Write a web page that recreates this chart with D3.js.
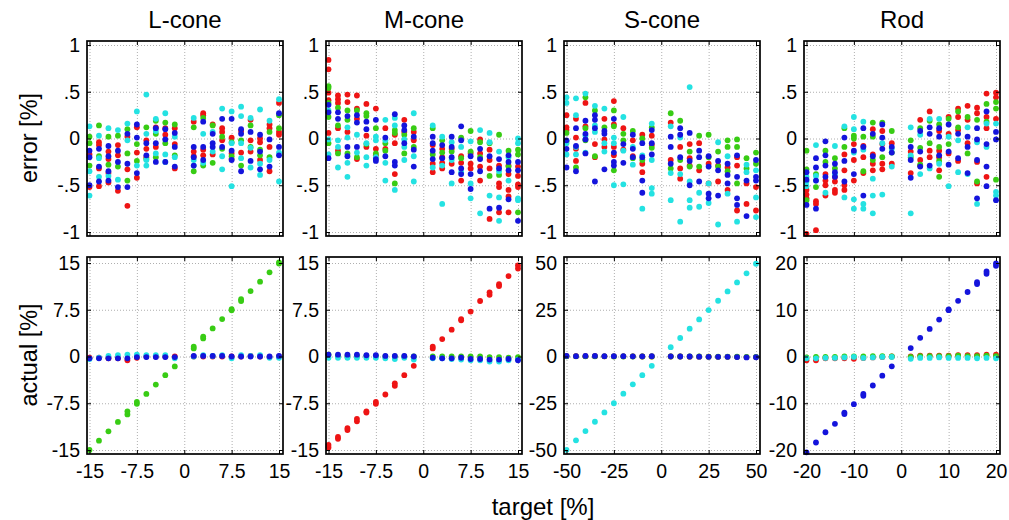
<!DOCTYPE html>
<html>
<head>
<meta charset="utf-8">
<script src="https://cdn.jsdelivr.net/npm/d3@7/dist/d3.min.js"></script>
<style>
  body { margin: 0; background: #fff; }
  text { font-family: "Liberation Sans", Arial, sans-serif; fill: #000; }
  .grid line { stroke: #9a9a9a; stroke-width: 0.8; stroke-dasharray: 1,2; }
  .grid path { display: none; }
  .ax path { display: none; }
  .ax line { stroke: #000; stroke-width: 1; }
</style>
</head>
<body>
<script>
// colours of the four series
var colRed = "#ee1414", colGreen = "#38cc14", colBlue = "#1414dc", colCyan = "#24e2e2";

// targets (x values) per panel
var targetsL = [-15,-13.5,-12,-10.5,-9,-7.5,-6,-4.5,-3,-1.5,1.5,3,4.5,6,7.5,9,10.5,12,13.5,15];
var targetsM = targetsL;
var targetsS = [-50,-45,-40,-35,-30,-25,-20,-15,-10,-5,5,10,15,20,25,30,35,40,45,50];
var targetsR = [-20,-18,-16,-14,-12,-10,-8,-6,-4,-2,2,4,6,8,10,12,14,16,18,20];

// tick labels
var ticksLM = [-15,-7.5,0,7.5,15];
var ticksS = [-50,-25,0,25,50];
var ticksR = [-20,-10,0,10,20];
var ticksErr = [-1,-0.5,0,0.5,1];

var titles = ["L-cone","M-cone","S-cone","Rod"];

// ---- error [%] (top row), one list per target ----
var errL_red = [[-0.17,-0.52],[-0.04,-0.07,-0.32,-0.51],[-0.14,-0.22,-0.37,-0.47],[-0.07,-0.18,-0.56],[0.02,-0.33,-0.72],[0.12,-0.15,-0.42],[-0.02,-0.11,-0.2],[0.12,-0.09],[0.11,0.04],[0.11,-0.06,-0.32],
  [0.18,-0.14,-0.19],[0.27,0.25,-0.12,-0.18],[0.15,-0.17],[0.11,0.07,-0.02],[0.01,-0.16,-0.22],[0.08,-0.15],[0.2,-0.02,-0.14],[0.0,-0.04,-0.23],[0.15,0.11,-0.09,-0.35],[0.38,0.07,0.04]];
var errL_green = [[0.02,-0.05,-0.29],[0.14,-0.19],[0.02,-0.28],[0.03,-0.3],[0.1,-0.16,-0.45],[-0.06,-0.24],[0.12,-0.22],[0.19,0.05,-0.2],[0.17,-0.05],[0.15,-0.18],
  [0.12,-0.35],[0.22,-0.29],[0.14,-0.26],[0.02,-0.11],[-0.19,-0.04],[-0.02,-0.29],[0.14,-0.09],[-0.12,-0.18],[0.07,-0.2],[0.11,0.25]];
var errL_blue = [[-0.13,-0.2,-0.5],[-0.11,-0.3,-0.46],[-0.08,-0.19,-0.35,-0.45],[-0.13,-0.25,-0.52],[0.05,-0.27,-0.52],[0.15,0.01,-0.37],[-0.05,-0.18],[0.11,-0.05,-0.25],[0.1,-0.01,-0.25],[0.06,-0.09,-0.3],
  [-0.09,-0.2,-0.29],[0.18,-0.09,-0.23],[0.05,-0.05,-0.09],[0.21,-0.09],[0.21,-0.13,-0.23],[0.1,0.05,-0.35],[0.07,-0.24],[0.04,-0.14,-0.33],[-0.01,-0.3],[0.27,-0.09,-0.18]];
var errL_cyan = [[0.13,-0.35,-0.61],[0.03,-0.21,-0.41],[0.11,-0.4],[0.09,-0.44],[0.16,-0.02],[0.29,-0.29],[0.47,0.05,-0.23,-0.29],[0.21,0.08,-0.16],[0.27,-0.17,-0.25],[0.02,-0.2],
  [0.22,-0.23,-0.29],[-0.26,0.05],[0.07,-0.14],[0.32,-0.19,-0.33],[0.29,-0.05,-0.51],[0.34,0.24,-0.05,-0.21],[0.22,-0.1,-0.31],[0.31,-0.27,-0.39],[0.19,-0.23],[0.42,-0.15,-0.46]];

var errM_red = [[0.84,0.74,0.49,0.41,0.06],[0.46,0.42,0.38,0.11,-0.13],[0.47,0.39,0.07],[0.46,0.32,0.21,-0.22],[0.37,0.03,-0.09],[0.32,-0.11,-0.18],[0.11,-0.11],[0.04,-0.05,-0.38],[0.2,0.07],[0.07,-0.02],
  [-0.07,-0.27,-0.36],[-0.11,-0.2,-0.26,-0.32],[-0.11,-0.27],[-0.19,-0.26,-0.45],[-0.16,-0.27,-0.32],[-0.01,-0.16,-0.3,-0.45],[-0.12,-0.23,-0.32,-0.86],[-0.29,-0.48,-0.52,-0.79],[-0.29,-0.38,-0.55,-0.62,-0.79],[-0.3,-0.4,-0.49,-0.52]];
var errM_green = [[0.56,0.54,0.38,0.23,-0.05],[0.33,0.14,-0.16],[0.3,0.2,-0.16],[0.3,-0.2],[0.27,0.24,-0.06],[0.11,-0.16],[-0.05,-0.13],[0.09,0.06,-0.48],[0.04,-0.16],[0.11,-0.09],
  [0.11,-0.17],[-0.02,-0.15],[-0.14],[0.01,-0.21],[0.08,-0.14],[-0.04,-0.2],[-0.05,-0.4],[0.04,-0.39],[-0.13,-0.3],[-0.12,-0.17,-0.79]];
var errM_blue = [[0.36,0.28,-0.21],[0.28,0.21],[0.24,-0.09,-0.19],[0.25,0.17,-0.09],[0.18,0.1],[0.2,-0.22,-0.24],[0.01,-0.19],[0.26,-0.25,-0.29],[0.14,0.09,-0.05],[0.02,-0.12,-0.3],
  [0.02,-0.05,-0.13,-0.22],[-0.07,-0.21],[0.02,-0.09,-0.2,-0.36],[0.13,-0.02,-0.32,-0.38],[-0.19,-0.38,-0.54],[-0.11,-0.22,-0.35],[-0.19,-0.75],[-0.22,-0.32,-0.74],[-0.18,-0.25,-0.34,-0.65],[-0.25,-0.34,-0.88]];
var errM_cyan = [[0.3,-0.01,-0.17],[-0.02,-0.09,-0.31],[0.12,0.01,-0.26,-0.41],[0.04,-0.15],[-0.05,-0.2,-0.29],[0.02,-0.02,-0.2],[0.2,-0.02,-0.26,-0.45],[0.22,0.14,-0.55],[-0.01,-0.09,-0.23],[0.27,-0.19,-0.46],
  [0.14,-0.31],[0.02,-0.29,-0.7],[-0.04,-0.23,-0.48],[-0.09,-0.36],[-0.03,-0.48,-0.64],[0.09,-0.8],[0.06,-0.04,-0.61],[-0.14,-0.35,-0.63,-0.88],[-0.2,-0.45],[0.0,-0.05,-0.64,-0.66]];

var errS_red = [[0.25,0.12,0.09],[0.21,0.01,-0.11,-0.24],[0.38,0.13],[-0.06,-0.2],[0.21,-0.01,-0.09],[0.4,0.15,-0.09,-0.18],[0.11,-0.12],[-0.02,-0.19],[0.04,-0.27,-0.36],[0.03,-0.07],
  [0.17,-0.23],[-0.09,-0.32,-0.43],[-0.06,-0.21,-0.29],[-0.05,-0.34],[-0.27,-0.48],[-0.29,-0.46],[-0.31,-0.55],[-0.2,-0.29,-0.77],[-0.48,-0.7],[-0.52,-0.77]];
var errS_green = [[0.06,-0.03],[-0.31],[0.44,0.11,-0.02],[0.3,-0.19],[0.12],[0.3,0.13,-0.34],[0.05,-0.02],[0.08,-0.21],[0.0,-0.23],[0.12,-0.1],
  [0.27,-0.32],[0.19,-0.23],[-0.14,-0.3],[0.03,-0.3],[0.04,-0.2],[-0.14,-0.3],[-0.02,-0.09,-0.35],[-0.01,-0.09,-0.48],[-0.21,-0.32],[-0.15,-0.27]];
var errS_blue = [[-0.02,-0.11,-0.31],[0.11,-0.08,-0.35],[0.19,0.05,-0.01,-0.16],[0.25,0.2,0.11,-0.46],[0.08,0.05,-0.33],[0.21,-0.15,-0.25,-0.29],[-0.06,-0.26],[0.04,-0.11,-0.2],[-0.05,-0.2,-0.45,-0.58],[0.09,-0.05,-0.17],
  [0.02,-0.09,-0.27],[0.11,0.04,-0.2],[0.06,-0.24,-0.5],[-0.13,-0.2,-0.46],[-0.19,-0.3,-0.59,-0.64],[-0.24,-0.34,-0.61],[-0.27,-0.39,-0.48],[-0.18,-0.41,-0.64,-0.71],[-0.45,-0.83],[-0.23,-0.41,-0.45]];
var errS_cyan = [[0.44,0.38,-0.05,-0.17],[0.43,0.25,-0.09,-0.17],[0.48,0.03,-0.15],[0.35,0.14,0.07],[0.32,-0.05,-0.14],[0.01,-0.05,-0.5],[0.23,-0.13,-0.49],[-0.09,-0.28],[-0.18,-0.75],[0.16,-0.23,-0.53,-0.59],
  [0.13,-0.37,-0.66],[0.01,-0.38,-0.89],[0.55,-0.46,-0.66,-0.74],[-0.58,-0.73],[-0.48,-0.69],[-0.04,-0.92],[-0.19,-0.59],[-0.89],[-0.28,-0.36],[-0.34,-0.63,-0.84]];

var errR_red = [[-0.55,-0.6,-0.64,-1.02],[-0.67,-0.7,-0.98],[-0.38,-0.45,-0.5,-0.61],[-0.41,-0.46,-0.55,-0.58],[-0.17,-0.34,-0.5,-0.55],[-0.06,-0.23,-0.45],[-0.08,-0.2,-0.37],[0.1,-0.17,-0.27,-0.34],[0.08,-0.06,-0.27,-0.33],[-0.05,-0.27],
  [-0.14,-0.37],[0.2,-0.23,-0.29],[0.29,-0.13,-0.2],[0.08,-0.13,-0.2,-0.34],[0.23,0.05,-0.16],[0.32,0.23,0.09,-0.24],[0.35,0.2,-0.05],[0.33,0.27,-0.25,-0.48],[0.48,0.23,0.11,-0.41],[0.49,0.44,0.21]];
var errR_green = [[-0.13,-0.33,-0.66],[-0.38,-0.52],[-0.13,-0.25],[-0.21,-0.32],[0.11,-0.09],[0.03,0.0],[0.02,-0.35],[0.17,0.02,-0.23],[0.17,-0.2],[0.08,-0.15],
  [-0.02,-0.2],[0.11,-0.1,-0.28],[0.19,-0.05],[0.15,-0.09,-0.24,-0.41],[0.21,-0.06],[0.29,0.12],[0.23,-0.16],[0.2,-0.46],[0.37,0.18],[0.39,0.32,-0.44]];
var errR_blue = [[-0.36,-0.44,-0.71],[-0.21,-0.31,-0.45,-0.75],[-0.03,-0.18,-0.29,-0.41],[-0.27,-0.36,-0.41],[0.01,-0.24,-0.46],[-0.13,-0.38],[0.11,-0.09,-0.61],[0.05,-0.19],[0.15,0.01,-0.11],[-0.09,-0.15],
  [-0.09,-0.23,-0.42],[0.08,-0.14,-0.3],[0.12,0.05,-0.29],[0.11,0.02,-0.18],[0.15,-0.14,-0.28],[0.05,-0.21],[0.02,-0.09,-0.37],[0.11,-0.01,-0.23,-0.64],[0.29,-0.06,-0.3,-0.51],[0.07,-0.01,-0.66]];
var errR_cyan = [[-0.41,-0.46,-0.51],[-0.07,-0.4,-0.45],[-0.58],[-0.08,-0.38],[0.13,-0.63],[0.23,0.1,-0.15,-0.65,-0.75],[0.18,-0.12,-0.7,-0.75],[-0.43,-0.61,-0.8],[-0.05,-0.6],[-0.11,-0.3],
  [0.12,-0.18,-0.8],[0.04,-0.38],[0.21,-0.32],[0.21,-0.27],[0.02,-0.51],[-0.02,-0.36],[0.12,-0.38],[-0.04,-0.7],[0.16,-0.09],[0.16,-0.57,-0.61]];

// ---- actual [%] (bottom row) ----
var actL_green = [[-15.0],[-13.5],[-12.0],[-10.5],[-9.3,-8.8],[-7.6,-7.3],[-6.0],[-4.5],[-3.0],[-1.6],[1.3,1.6],[2.9,3.2],[4.5],[6.0],[7.4,7.6],[8.9,9.2],[10.5],[12.0],[13.5],[14.9,15.1]];
var actL_red = [-0.2,-0.2,-0.3,-0.3,-0.6,-0.2,0,0,0,0,0,0,0,0,0,0,0.1,0,-0.1,0];
var actL_blue = [-0.3,-0.3,-0.3,-0.3,-0.3,-0.1,-0.1,-0.1,-0.1,-0.1,0.1,0.1,0.1,0.1,0,0,0,0,0,0.1];
var actL_cyan = [-0.4,-0.2,0.1,0.2,0.3,0.3,0.2,0.2,0.2,-0.3,0,0.2,0.1,0.2,-0.3,0.2,0.1,0.2,-0.2,-0.2];

var actM_red = [[-14.6,-14.2],[-13.2,-12.9],[-11.8,-11.5],[-10.4,-10.0],[-9.0,-8.8],[-7.6,-7.3],[-6.1],[-4.7,-4.3],[-3.0],[-1.5],[1.3,1.6],[2.8],[4.3],[5.8,6.0],[7.2],[8.9],[9.9,10.3],[11.3,11.6],[12.9],[14.1,14.6]];
var actM_green = [0.3,0.1,0.1,0.1,0.1,0.1,0,0,0,0,0,0,0,0,0,0,-0.1,-0.1,-0.2,-0.1];
var actM_blue = [0.3,0.3,0.3,0.3,0.2,0.2,0.1,0.1,0.1,0,-0.2,-0.3,-0.3,-0.2,-0.4,-0.4,-0.5,-0.5,-0.4,-0.6];
var actM_cyan = [-0.2,-0.2,-0.2,-0.2,-0.2,-0.2,-0.3,-0.4,-0.2,-0.5,-0.3,-0.3,-0.4,-0.5,-0.6,-0.6,-0.8,-0.8,-0.6,-0.5];

var actS_cyan = [-49.9,-44.8,-39.9,-34.9,-29.9,-25.0,-19.9,-14.9,-10.0,-5.0,5.0,9.9,14.9,19.8,24.8,29.8,34.8,39.6,44.5,49.6];
var actS_red = [0.2,0.2,0.2,0.2,0.1,0.1,0.1,0.1,0,0,0,0,-0.1,-0.1,-0.1,-0.2,-0.2,-0.2,-0.3,-0.3];
var actS_green = [0.1,0.1,0.1,0.1,0.1,0,0,0,0,0,0,0,0,0,-0.1,-0.1,-0.1,-0.1,-0.2,-0.2];
var actS_blue = [0.3,0.2,0.3,0.3,0.2,0.2,0.2,0.1,0.1,0.2,0.1,0,0,-0.1,-0.2,-0.2,-0.2,-0.3,-0.5,-0.4];

var actR_blue = [[-20.5],[-18.4],[-16.2],[-14.4],[-12.3,-12.0],[-10.2],[-8.4,-8.0],[-6.2],[-4.1],[-2.1],[1.8],[4.0],[5.9],[7.9],[9.9,10.1],[11.9],[13.8],[15.5,15.9],[17.7,18.2],[19.4,19.9]];
var actR_red = [-0.8,-0.8,-0.4,-0.4,-0.4,-0.5,-0.3,-0.2,-0.1,0,0,0.2,0.2,0.2,0.2,0.3,0.3,0.3,0.4,0.4];
var actR_green = [-0.2,-0.1,-0.1,-0.1,0,0,0,0.1,0.1,0,-0.1,0.1,0.1,0.1,0.1,0.2,0.1,0.1,0.2,0.1];
var actR_cyan = [-0.4,-0.4,-0.3,-0.3,-0.2,-0.1,-0.3,-0.2,-0.1,-0.1,-0.5,-0.3,-0.3,-0.2,-0.3,-0.3,-0.3,-0.4,-0.3,-0.4];

var panels = [
  {targets: targetsL, xt: ticksLM, yt: ticksLM,
   err: [[colRed, errL_red],[colGreen, errL_green],[colCyan, errL_cyan],[colBlue, errL_blue]],
   act: [[colRed, actL_red],[colCyan, actL_cyan],[colBlue, actL_blue],[colGreen, actL_green]]},
  {targets: targetsM, xt: ticksLM, yt: ticksLM,
   err: [[colRed, errM_red],[colGreen, errM_green],[colCyan, errM_cyan],[colBlue, errM_blue]],
   act: [[colGreen, actM_green],[colCyan, actM_cyan],[colBlue, actM_blue],[colRed, actM_red]]},
  {targets: targetsS, xt: ticksS, yt: ticksS,
   err: [[colRed, errS_red],[colGreen, errS_green],[colCyan, errS_cyan],[colBlue, errS_blue]],
   act: [[colRed, actS_red],[colGreen, actS_green],[colCyan, actS_cyan],[colBlue, actS_blue]]},
  {targets: targetsR, xt: ticksR, yt: ticksR,
   err: [[colRed, errR_red],[colGreen, errR_green],[colCyan, errR_cyan],[colBlue, errR_blue]],
   act: [[colRed, actR_red],[colGreen, actR_green],[colCyan, actR_cyan],[colBlue, actR_blue]]}
];

var width = 1009, height = 520;
var lefts = [87, 326, 564, 804], pw = 196;
var rows = [{top: 41, h: 195}, {top: 257, h: 197}];
var rDot = 2.9;

var svg = d3.select("body").append("svg")
  .attr("width", width).attr("height", height);

function fmt(d) {
  if (d === 0) return "0";
  return String(d).replace("0.", ".");
}

// turn [color, data] into points
function points(targets, series) {
  var pts = [];
  series.forEach(function(s) {
    s[1].forEach(function(v, i) {
      [].concat(v).forEach(function(y) {
        pts.push({x: targets[i], y: y, c: s[0]});
      });
    });
  });
  return pts;
}

function drawPanel(p, col, row) {
  var L = lefts[col], R = rows[row];
  var x = d3.scaleLinear()
    .domain([p.xt[0], p.xt[4]])
    .range([L + 2.5, L + pw - 4]);
  var y = d3.scaleLinear()
    .domain(row === 0 ? [-1, 1] : [p.yt[0], p.yt[4]])
    .range(row === 0 ? [R.top + R.h - 4, R.top + 4] : [R.top + R.h - 4, R.top + 6]);
  var yTicks = row === 0 ? ticksErr : p.yt;
  var g = svg.append("g");

  // grid
  g.append("g").attr("class", "grid")
    .attr("transform", "translate(0," + (R.top + R.h) + ")")
    .call(d3.axisBottom(x).tickValues(p.xt).tickSize(-R.h).tickFormat(""));
  g.append("g").attr("class", "grid")
    .attr("transform", "translate(" + L + ",0)")
    .call(d3.axisLeft(y).tickValues(yTicks).tickSize(-pw).tickFormat(""));

  // dots
  var pts = points(p.targets, row === 0 ? p.err : p.act);
  g.append("g").selectAll("circle")
    .data(pts).enter().append("circle")
    .attr("cx", function(d) { return x(d.x); })
    .attr("cy", function(d) { return y(d.y); })
    .attr("r", rDot)
    .attr("fill", function(d) { return d.c; });

  // axes with inward ticks
  var yl = g.append("g").attr("class", "ax")
    .attr("transform", "translate(" + L + ",0)")
    .call(d3.axisLeft(y).tickValues(yTicks).tickFormat(fmt).tickSizeInner(-4).tickSizeOuter(0).tickPadding(7));
  yl.selectAll("text").style("font-size", "19.5px");
  g.append("g").attr("class", "ax")
    .attr("transform", "translate(" + (L + pw) + ",0)")
    .call(d3.axisRight(y).tickValues(yTicks).tickFormat("").tickSizeInner(-4).tickSizeOuter(0));
  var xb = g.append("g").attr("class", "ax")
    .attr("transform", "translate(0," + (R.top + R.h) + ")")
    .call(d3.axisBottom(x).tickValues(p.xt).tickFormat(row === 1 ? fmt : "").tickSizeInner(-4).tickSizeOuter(0).tickPadding(10));
  xb.selectAll("text").style("font-size", "19.5px");
  g.append("g").attr("class", "ax")
    .attr("transform", "translate(0," + R.top + ")")
    .call(d3.axisTop(x).tickValues(p.xt).tickFormat("").tickSizeInner(-4).tickSizeOuter(0));

  // frame
  g.append("rect")
    .attr("x", L).attr("y", R.top)
    .attr("width", pw).attr("height", R.h)
    .attr("fill", "none").attr("stroke", "#000").attr("stroke-width", 1.7);
}

panels.forEach(function(p, i) {
  drawPanel(p, i, 0);
  drawPanel(p, i, 1);
  svg.append("text")
    .attr("x", lefts[i] + pw / 2).attr("y", 28)
    .attr("text-anchor", "middle")
    .style("font-size", "24px")
    .text(titles[i]);
});

svg.append("text")
  .attr("transform", "translate(37,138) rotate(-90)")
  .attr("text-anchor", "middle").style("font-size", "23.5px")
  .text("error [%]");
svg.append("text")
  .attr("transform", "translate(37,355) rotate(-90)")
  .attr("text-anchor", "middle").style("font-size", "23.5px")
  .text("actual [%]");
svg.append("text")
  .attr("x", 543).attr("y", 515)
  .attr("text-anchor", "middle").style("font-size", "24px")
  .text("target [%]");
</script>
</body>
</html>
